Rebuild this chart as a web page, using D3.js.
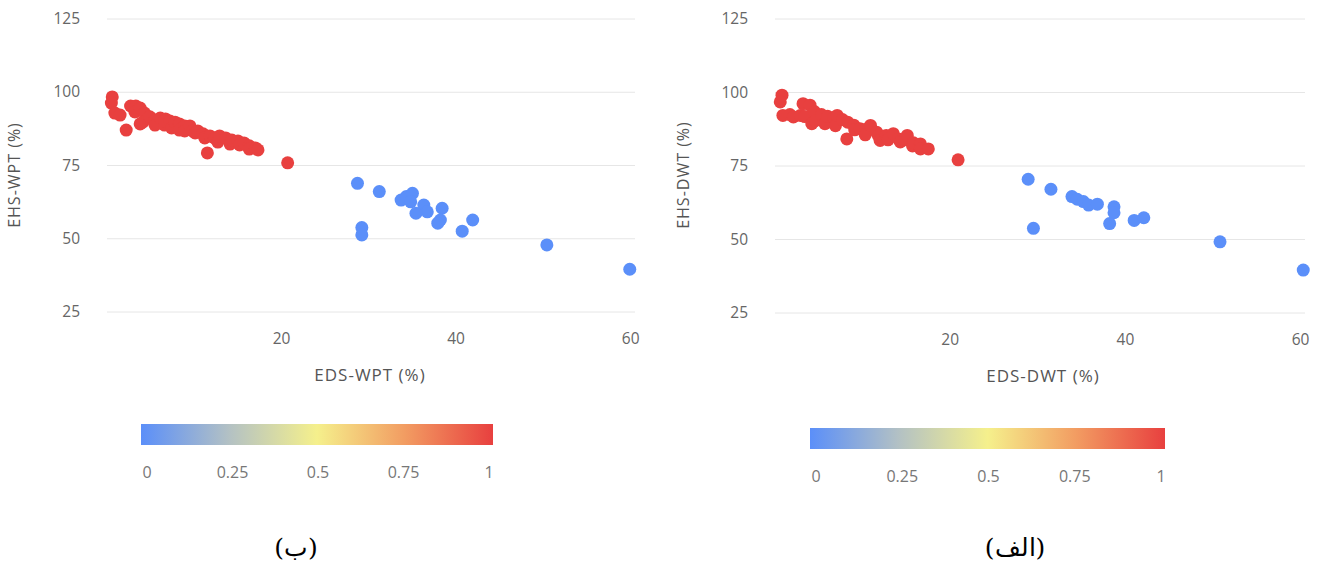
<!DOCTYPE html>
<html>
<head>
<meta charset="utf-8">
<script src="https://cdn.jsdelivr.net/npm/d3@7"></script>
<style>
body { margin:0; background:#fff; }
text { font-family: "Open Sans", "DejaVu Sans", sans-serif; }
</style>
</head>
<body>
<svg width="1317" height="566"></svg>
<script>
// chart (ب): WPT
var wptHigh = [[0.6,98.4],[0.5,96.3],[0.9,92.9],[1.5,92.2],[2.2,87.1],[2.7,95.3],[3.3,95.3],[3.2,93.3],[3.8,94.6],[3.8,89.2],
  [4.3,92.9],[4.1,89.8],[4.7,91.2],[4.9,91.6],[5.5,90.5],[5.5,88.8],[6.1,91.2],[6.7,90.9],[6.6,88.8],[6.6,90.2],[7.2,90.2],
  [7.4,87.8],[7.8,89.8],[8.3,89.2],[8.3,87.1],[8.9,88.5],[8.9,86.8],[9.5,88.5],[9.8,86.8],[10.1,86.1],[10.4,86.8],[11.0,85.8],
  [11.2,84.4],[11.8,85.1],[12.3,84.4],[12.7,83.0],[12.9,85.1],[13.6,84.4],[14.1,82.3],[14.3,83.7],[15.0,83.4],[15.2,82.0],
  [15.7,82.7],[16.3,81.7],[16.3,80.6],[17.0,81.0],[17.3,80.3],[11.5,79.3],[20.7,75.9]];
var wptLow = [[28.7,68.9],[31.2,66.1],[33.7,63.2],[34.3,64.4],[35.0,65.5],[34.8,62.6],[36.3,61.5],[36.7,59.2],[35.4,58.7],
  [38.4,60.4],[38.2,56.4],[37.9,55.3],[41.9,56.4],[40.7,52.6],[29.2,53.8],[29.2,51.3],[50.4,47.9],[59.9,39.6]];

// chart (الف): DWT
var dwtHigh = [[0.8,99.1],[0.6,96.8],[0.9,92.2],[1.7,92.5],[2.1,91.7],[2.9,92.2],[3.2,96.2],[3.4,91.8],[4.0,95.7],[4.2,89.4],
  [4.5,93.5],[4.6,90.4],[5.3,92.5],[5.7,89.4],[6.0,91.9],[6.7,91.5],[6.9,88.7],[7.1,92.2],[7.7,90.8],[8.2,84.2],[8.3,89.9],
  [9.0,88.9],[9.1,87.3],[9.7,87.7],[10.3,87.4],[10.3,85.6],[10.9,88.8],[11.6,86.5],[11.8,85.3],[12.0,83.7],[12.7,85.4],
  [12.9,83.9],[13.5,86.0],[14.1,84.2],[14.3,83.2],[14.8,83.9],[15.1,85.4],[15.7,81.8],[15.8,82.9],[16.6,82.5],[16.6,80.8],
  [17.5,80.8],[20.9,77.1]];
var dwtLow = [[28.9,70.5],[31.5,67.1],[33.9,64.6],[34.5,63.7],[35.2,62.9],[35.8,61.7],[36.8,62.0],[38.7,61.1],[38.7,59.1],
  [38.2,55.4],[41.0,56.5],[42.1,57.4],[29.5,53.8],[50.8,49.2],[60.3,39.6]];

var xTicks = [20, 40, 60];
var yTicks = [25, 50, 75, 100, 125];
var legendTicks = [0, 0.25, 0.5, 0.75, 1];
var legendColors = ["#5b8ff9", "#b3c1c4", "#f5f08c", "#f29c62", "#e8403f"];

var color = d3.scaleLinear().domain(legendTicks).range(legendColors);
var svg = d3.select("svg");

function drawPanel(cfg){
  var x = d3.scaleLinear().domain([0, 60.5]).range([cfg.left, cfg.right]);
  var y = d3.scaleLinear().domain([25, 125]).range([cfg.bottom, 19]);
  var g = svg.append("g");

  g.selectAll(".grid").data(yTicks).enter().append("line")
    .attr("x1", cfg.left).attr("x2", cfg.right)
    .attr("y1", function(d){return y(d);}).attr("y2", function(d){return y(d);})
    .attr("stroke", "#e6e6e6").attr("stroke-width", 1);

  g.selectAll(".ylab").data(yTicks).enter().append("text")
    .attr("x", cfg.left - 27).attr("y", function(d){return y(d)+5;})
    .attr("text-anchor", "end").attr("font-size", 15.5).attr("fill", "#666")
    .text(function(d){return d;});

  g.selectAll(".xlab").data(xTicks).enter().append("text")
    .attr("x", function(d){return x(d);}).attr("y", cfg.bottom + 32)
    .attr("text-anchor", "middle").attr("font-size", 15.5).attr("fill", "#666")
    .text(function(d){return d;});

  g.append("text").attr("x", cfg.xTitleX).attr("y", cfg.bottom + 69)
    .attr("text-anchor", "middle").attr("font-size", 17).attr("fill", "#555")
    .attr("letter-spacing", 1)
    .text(cfg.xTitle);
  g.append("text").attr("transform", "translate(" + cfg.yTitleX + ",175) rotate(-90)")
    .attr("text-anchor", "middle").attr("font-size", 16).attr("fill", "#555")
    .attr("letter-spacing", 1)
    .text(cfg.yTitle);

  var pts = cfg.high.map(function(p){return {x:p[0], y:p[1], v:1};})
    .concat(cfg.low.map(function(p){return {x:p[0], y:p[1], v:0};}));
  g.selectAll(".pt").data(pts).enter().append("circle")
    .attr("cx", function(d){return x(d.x);}).attr("cy", function(d){return y(d.y);})
    .attr("r", 6.5).attr("fill", function(d){return color(d.v);});

  // colour bar
  var gid = "grad" + cfg.id;
  var grad = svg.append("defs").append("linearGradient").attr("id", gid);
  grad.selectAll("stop").data(legendTicks).enter().append("stop")
    .attr("offset", function(d){return d*100 + "%";})
    .attr("stop-color", function(d){return color(d);});
  g.append("rect").attr("x", cfg.barX).attr("y", cfg.barY).attr("width", cfg.barW).attr("height", 21)
    .attr("fill", "url(#" + gid + ")");
  var lx = d3.scaleLinear().domain([0, 1]).range([cfg.barX + 6, cfg.barX + cfg.barW - 4]);
  g.selectAll(".leg").data(legendTicks).enter().append("text")
    .attr("x", function(d){return lx(d);}).attr("y", cfg.barY + 54)
    .attr("text-anchor", "middle").attr("font-size", 16).attr("fill", "#777")
    .text(function(d){return d;});

  g.append("text").attr("x", cfg.capX).attr("y", 556)
    .attr("text-anchor", "middle").attr("font-size", 25).attr("fill", "#000")
    .style("font-family", "'DejaVu Serif', 'Liberation Serif', serif")
    .text(cfg.caption);
}

drawPanel({id:"b", left:107, right:635, bottom:312, high:wptHigh, low:wptLow,
  xTitle:"EDS-WPT (%)", yTitle:"EHS-WPT (%)", xTitleX:370, yTitleX:20,
  barX:141, barY:424, barW:352, capX:296, caption:"(ب)"});
drawPanel({id:"a", left:775, right:1305, bottom:313, high:dwtHigh, low:dwtLow,
  xTitle:"EDS-DWT (%)", yTitle:"EHS-DWT (%)", xTitleX:1043, yTitleX:689,
  barX:810, barY:428, barW:355, capX:1015, caption:"(الف)"});
</script>
</body>
</html>
